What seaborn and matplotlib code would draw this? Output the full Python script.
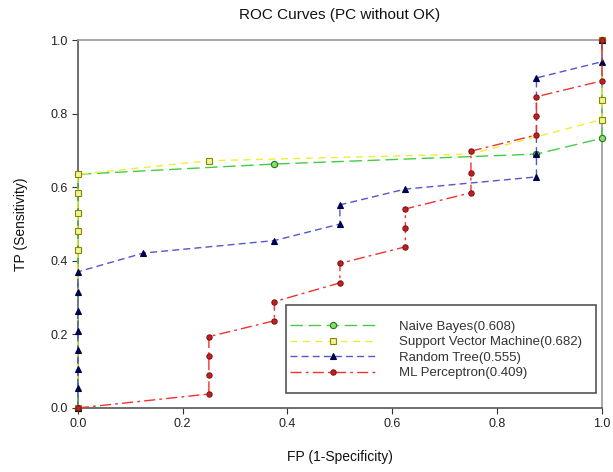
import matplotlib
matplotlib.use("Agg")
import matplotlib.pyplot as plt
from matplotlib.patches import Rectangle
import seaborn as sns
import pandas as pd

# ---- data ----
nb_fp = [0.0, 0.0, 0.375, 0.875, 1.0, 1.0]
nb_tp = [0.0, 0.635, 0.663, 0.690, 0.733, 1.0]

svm_fp = [0.0, 0.0, 0.0, 0.0, 0.0, 0.0, 0.25, 0.75, 1.0, 1.0, 1.0]
svm_tp = [0.0, 0.430, 0.480, 0.531, 0.583, 0.635, 0.672, 0.690, 0.784, 0.837, 1.0]

rt_fp = [0.0, 0.0, 0.0, 0.0, 0.0, 0.0, 0.0, 0.0, 0.125, 0.375, 0.5, 0.5,
         0.625, 0.875, 0.875, 0.875, 1.0, 1.0]
rt_tp = [0.0, 0.053, 0.105, 0.158, 0.210, 0.263, 0.316, 0.370, 0.421, 0.455,
         0.500, 0.552, 0.595, 0.628, 0.690, 0.897, 0.941, 1.0]

mlp_fp = [0.0, 0.25, 0.25, 0.25, 0.25, 0.375, 0.375, 0.5, 0.5, 0.625, 0.625,
          0.625, 0.75, 0.75, 0.75, 0.875, 0.875, 0.875, 1.0, 1.0]
mlp_tp = [0.0, 0.038, 0.090, 0.141, 0.194, 0.237, 0.289, 0.340, 0.393, 0.438,
          0.488, 0.541, 0.585, 0.638, 0.698, 0.742, 0.794, 0.846, 0.889, 1.0]

labels = ["Naive Bayes(0.608)", "Support Vector Machine(0.682)",
          "Random Tree(0.555)", "ML Perceptron(0.409)"]
title = "ROC Curves (PC without OK)"
xlabel = "FP (1-Specificity)"
ylabel = "TP (Sensitivity)"
ticks = [0.0, 0.2, 0.4, 0.6, 0.8, 1.0]
tick_labels = ["0.0", "0.2", "0.4", "0.6", "0.8", "1.0"]

sns.set_style("white")
plt.rcParams['font.family'] = ['Liberation Sans', 'DejaVu Sans']

fig = plt.figure(figsize=(6.13, 4.72), dpi=100)
ax = fig.add_axes([0.127, 0.1356, 0.855, 0.7796])

styles = [
    dict(color="#44cc44", marker="o", mfc="#88dd66", mec="#227722", ls=(0, (9, 4)), ms=4.5),
    dict(color="#eeee33", marker="s", mfc="#f2f29a", mec="#888800", ls=(0, (5, 4)), ms=4.5),
    dict(color="#5555cc", marker="^", mfc="#000055", mec="#000044", ls=(0, (5, 3)), ms=4.5),
    dict(color="#ee3333", marker="o", mfc="#bb2222", mec="#881111", ls=(0, (8, 3, 2, 3)), ms=3.8),
]
series = [(nb_fp, nb_tp), (svm_fp, svm_tp), (rt_fp, rt_tp), (mlp_fp, mlp_tp)]

for i, ((fx, ty), lab, st) in enumerate(zip(series, labels, styles)):
    df = pd.DataFrame({"fp": fx, "tp": ty})
    every = [k for k in range(len(fx)) if not (i == 1 and k == 7)]
    sns.lineplot(data=df, x="fp", y="tp", sort=False, estimator=None, ax=ax,
                 color=st["color"], linestyle=st["ls"], linewidth=1.0,
                 marker=st["marker"], markersize=st["ms"], markevery=every,
                 markerfacecolor=st["mfc"], markeredgecolor=st["mec"],
                 markeredgewidth=0.8, label=lab, clip_on=False, zorder=3)

ax.set_xlim(0, 1)
ax.set_ylim(0, 1)
ax.set_xticks(ticks)
ax.set_xticklabels(tick_labels)
ax.set_yticks(ticks)
ax.set_yticklabels(tick_labels)
ax.tick_params(axis="both", direction="out", length=4, width=0.8,
               colors="#333333", labelsize=9, labelcolor="#222222", left=True, bottom=True)
for side in ["left", "bottom", "top", "right"]:
    ax.spines[side].set_visible(True)
    ax.spines[side].set_linewidth(1.2)
    ax.spines[side].set_zorder(1)
ax.spines["left"].set_color("#555555")
ax.spines["bottom"].set_color("#555555")
ax.spines["top"].set_color("#999999")
ax.spines["right"].set_color("#999999")

ax.set_title(title, fontsize=11, pad=15, color="#111111")
ax.set_xlabel(xlabel, fontsize=10, labelpad=14, color="#111111")
ax.set_ylabel(ylabel, fontsize=10, labelpad=16, color="#111111")

# legend frame drawn separately (taller padding than matplotlib's uniform borderpad)
ax.add_patch(Rectangle((0.398, 0.041), 0.591, 0.239, transform=ax.transAxes,
                       facecolor="white", edgecolor="#555555", linewidth=1.2, zorder=4))
leg = ax.legend(loc="center left", bbox_to_anchor=(0.404, 0.158), frameon=False,
                fontsize=9.5, handlelength=6.6, handletextpad=1.7,
                borderpad=0, labelspacing=0.25, borderaxespad=0)
for t in leg.get_texts():
    t.set_color("#333333")
leg.set_zorder(5)

fig.savefig("out.png", dpi=100)
